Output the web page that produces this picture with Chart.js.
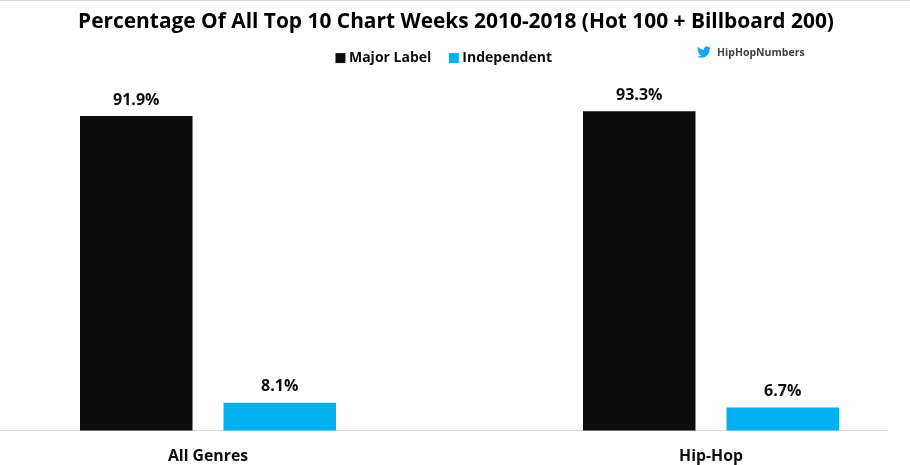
<!DOCTYPE html>
<html>
<head>
<meta charset="utf-8">
<title>Top 10 Chart Weeks</title>
<script src="https://cdn.jsdelivr.net/npm/chart.js@4"></script>
<style>
html, body { margin: 0; padding: 0; background: #fff; overflow: hidden; }
#wrap { position: relative; width: 910px; height: 465px; }
#topline { position: absolute; left: 0; top: 0; width: 910px; height: 1px; background: #d9d9d9; }
#handle { position: absolute; left: 697px; top: 45px; display: flex; align-items: center; font: 700 10.5px "Open Sans", sans-serif; color: #404040; }
#handle svg { width: 14px; height: 14px; margin-right: 6px; }
</style>
</head>
<body>
<div id="wrap">
  <canvas id="myChart" width="910" height="465"></canvas>
  <div id="topline"></div>
  <div id="handle">
    <svg viewBox="0 0 24 24"><path fill="#1da1f2" d="M23.95 4.57a10 10 0 0 1-2.82.77 4.96 4.96 0 0 0 2.16-2.72c-.95.55-2 .96-3.13 1.2a4.92 4.92 0 0 0-8.38 4.48C7.69 8.1 4.07 6.13 1.64 3.16a4.82 4.82 0 0 0-.67 2.48c0 1.71.87 3.21 2.19 4.1a4.9 4.9 0 0 1-2.23-.62v.06a4.92 4.92 0 0 0 3.95 4.83 5 5 0 0 1-2.21.08 4.94 4.94 0 0 0 4.6 3.42A9.87 9.87 0 0 1 0 19.54a14 14 0 0 0 7.56 2.21c9.05 0 14-7.5 14-13.98 0-.21 0-.42-.02-.63a9.94 9.94 0 0 0 2.46-2.55z"/></svg>
    <span>HipHopNumbers</span>
  </div>
</div>
<script>
var chartTitle = 'Percentage Of All Top 10 Chart Weeks 2010-2018 (Hot 100 + Billboard 200)';
var categories = ['All Genres', 'Hip-Hop'];
var seriesNames = ['Major Label', 'Independent'];
var majorLabel = [91.9, 93.3];
var independent = [8.1, 6.7];

var fontName = '"Open Sans", sans-serif';
var textColor = '#0d0d0d';

// shift the legend a bit left of centre and draw the baseline and value labels
var extras = {
    id: 'extras',
    afterLayout: function(chart) {
        chart.legend.left -= 21;
        chart.legend.top -= 5;
    },
    beforeDatasetsDraw: function(chart) {
        var c = chart.ctx;
        var y = chart.scales.y.getPixelForValue(0);
        c.save();
        c.strokeStyle = '#d9d9d9';
        c.lineWidth = 1;
        c.beginPath();
        c.moveTo(0, y);
        c.lineTo(888, y);
        c.stroke();
        c.restore();
    },
    afterDatasetsDraw: function(chart) {
        var c = chart.ctx;
        c.save();
        c.font = '700 16px ' + fontName;
        c.fillStyle = textColor;
        c.textAlign = 'center';
        c.textBaseline = 'bottom';
        chart.data.datasets.forEach(function(ds, i) {
            chart.getDatasetMeta(i).data.forEach(function(bar, j) {
                c.fillText(ds.data[j].toFixed(1) + '%', bar.x, bar.y - 8);
            });
        });
        c.restore();
    }
};

var ctx = document.getElementById('myChart').getContext('2d');

var myChart = new Chart(ctx, {
    type: 'bar',
    data: {
        labels: categories,
        datasets: [
            { label: seriesNames[0], data: majorLabel, backgroundColor: '#0d0d0d', clip: false, yAxisID: 'y' },
            { label: seriesNames[1], data: independent, backgroundColor: '#00b0f0', clip: false, yAxisID: 'y' }
        ]
    },
    plugins: [extras],
    options: {
        responsive: false,
        animation: false,
        categoryPercentage: 0.5706,
        barPercentage: 0.784,
        layout: { padding: { left: 2, right: 0, top: 0, bottom: 0 } },
        plugins: {
            title: {
                display: true,
                text: chartTitle,
                color: '#000',
                font: { family: fontName, size: 20.9, weight: '700' },
                padding: { top: 10, bottom: 0 }
            },
            legend: {
                display: true,
                position: 'top',
                labels: {
                    color: textColor,
                    font: { family: fontName, size: 14, weight: '700' },
                    usePointStyle: true,
                    pointStyle: 'rect',
                    boxWidth: 3,
                    boxHeight: 10,
                    padding: 21
                }
            },
            tooltip: { enabled: false }
        },
        scales: {
            x: {
                offset: false,
                border: { display: false },
                grid: { display: false },
                afterFit: function(s) { s.height = 34.5; },
                ticks: {
                    color: textColor,
                    font: { family: fontName, size: 15.8, weight: '700' },
                    padding: 9,
                    maxRotation: 0,
                    autoSkip: false
                }
            },
            y: {
                min: 0,
                max: 102.4,
                position: 'left',
                border: { display: false },
                grid: { display: false },
                ticks: { display: false },
                afterFit: function(s) { s.width = 206; }
            },
            yRight: {
                position: 'right',
                border: { display: false },
                grid: { display: false },
                ticks: { display: false },
                afterFit: function(s) { s.width = 199; }
            }
        }
    }
});
</script>
</body>
</html>
